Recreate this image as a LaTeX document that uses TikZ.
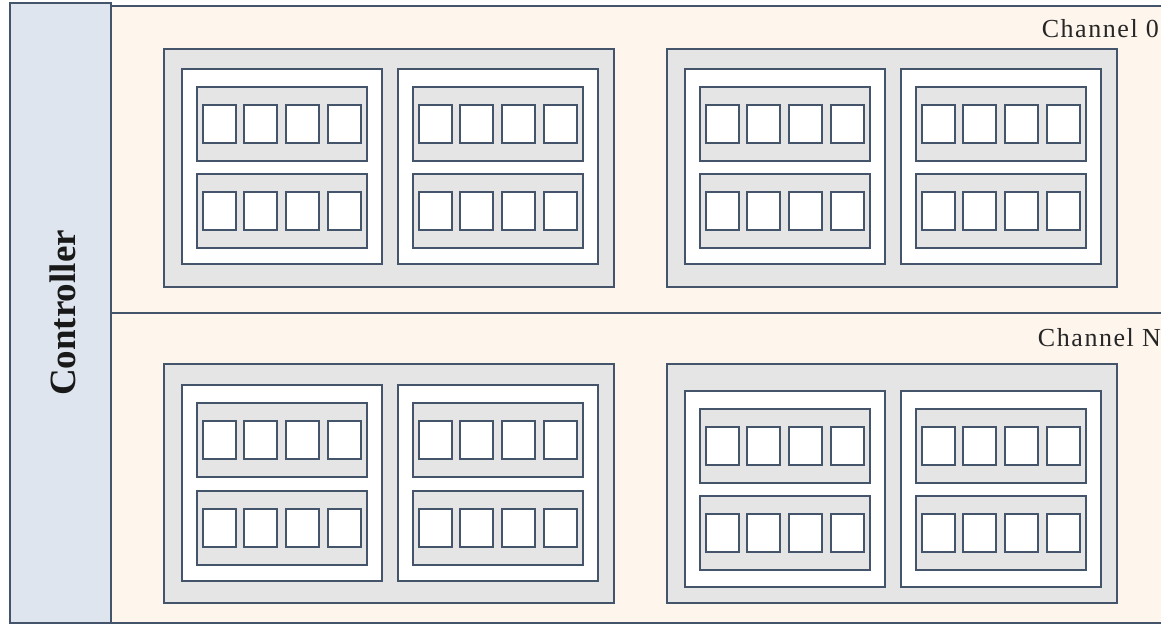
\documentclass[tikz,border=0pt]{standalone}
\usepackage{fontspec}
\newfontfamily\chanfont{Liberation Serif}[LetterSpace=6.0]
\newfontfamily\ctrlfont{Liberation Serif}
\definecolor{edge}{HTML}{44546A}
\definecolor{ctrlfill}{HTML}{DEE5EE}
\definecolor{chanfill}{HTML}{FEF5EC}
\definecolor{pkgfill}{HTML}{E5E5E5}
\tikzset{
  rbase/.style={draw=edge, line width=1.8pt, rectangle, inner sep=0pt, outer sep=0pt, anchor=north west},
  ctrlbox/.style={rbase, fill=ctrlfill},
  chanbox/.style={rbase, fill=chanfill},
  pkgbox/.style={rbase, fill=pkgfill},
  diebox/.style={rbase, fill=white},
  planebox/.style={rbase, fill=pkgfill},
  cellbox/.style={rbase, fill=white},
  chanlabel/.style={anchor=base east, inner sep=0pt, text=black!85, font=\chanfont\fontsize{26}{30}\selectfont},
  ctrllabel/.style={rotate=90, inner sep=0pt, text=black!90, font=\ctrlfont\fontsize{37}{42}\selectfont\bfseries}
}
\newcommand\rbox[6]{%
  \node[#1, minimum width={((#5)-(#3))*1pt}, minimum height={((#6)-(#4))*1pt}] (#2) at ({#3},{#4}) {};}
\newcommand\ssdblock[8]{%
  \rbox{pkgbox}{#1}{164+#2}{#3}{614+#2}{#4}
  \foreach \d/\dx in {1/0,2/216} {
    \rbox{diebox}{#1d\d}{182+#2+\dx}{#5}{382+#2+\dx}{#6}
    \foreach \p/\pt in {1/#7,2/#8} {
      \rbox{planebox}{#1d\d p\p}{197+#2+\dx}{\pt}{367+#2+\dx}{\pt+74}
      \foreach \s/\sx in {1/0,2/41,3/83,4/125} {
        \rbox{cellbox}{#1d\d p\p s\s}{203+#2+\dx+\sx}{\pt+18}{236+#2+\dx+\sx}{\pt+56}
      }
    }
  }
}
\begin{document}
\begin{tikzpicture}[x=1pt,y=-1pt]
\useasboundingbox (0,0) rectangle (1161,624);
% channels
\rbox{chanbox}{ch0}{111}{6}{1175}{313}
\rbox{chanbox}{chN}{111}{313}{1175}{623}
\node[chanlabel] (ch0lab) at (1159,37) {Channel 0};
\node[chanlabel] (chNlab) at (1161,346) {Channel N};
% controller
\rbox{ctrlbox}{ctrl}{10}{3}{111}{623}
\node[ctrllabel, anchor=base] (ctrllab) at (75,313) {Controller};
% blocks
\ssdblock{tl}{0}{49}{287}{69}{264}{87}{174}
\ssdblock{tr}{503}{49}{287}{69}{264}{87}{174}
\ssdblock{bl}{0}{364}{603}{385}{581}{403}{491}
\ssdblock{br}{503}{364}{603}{391}{587}{409}{496}
\end{tikzpicture}
\end{document}
